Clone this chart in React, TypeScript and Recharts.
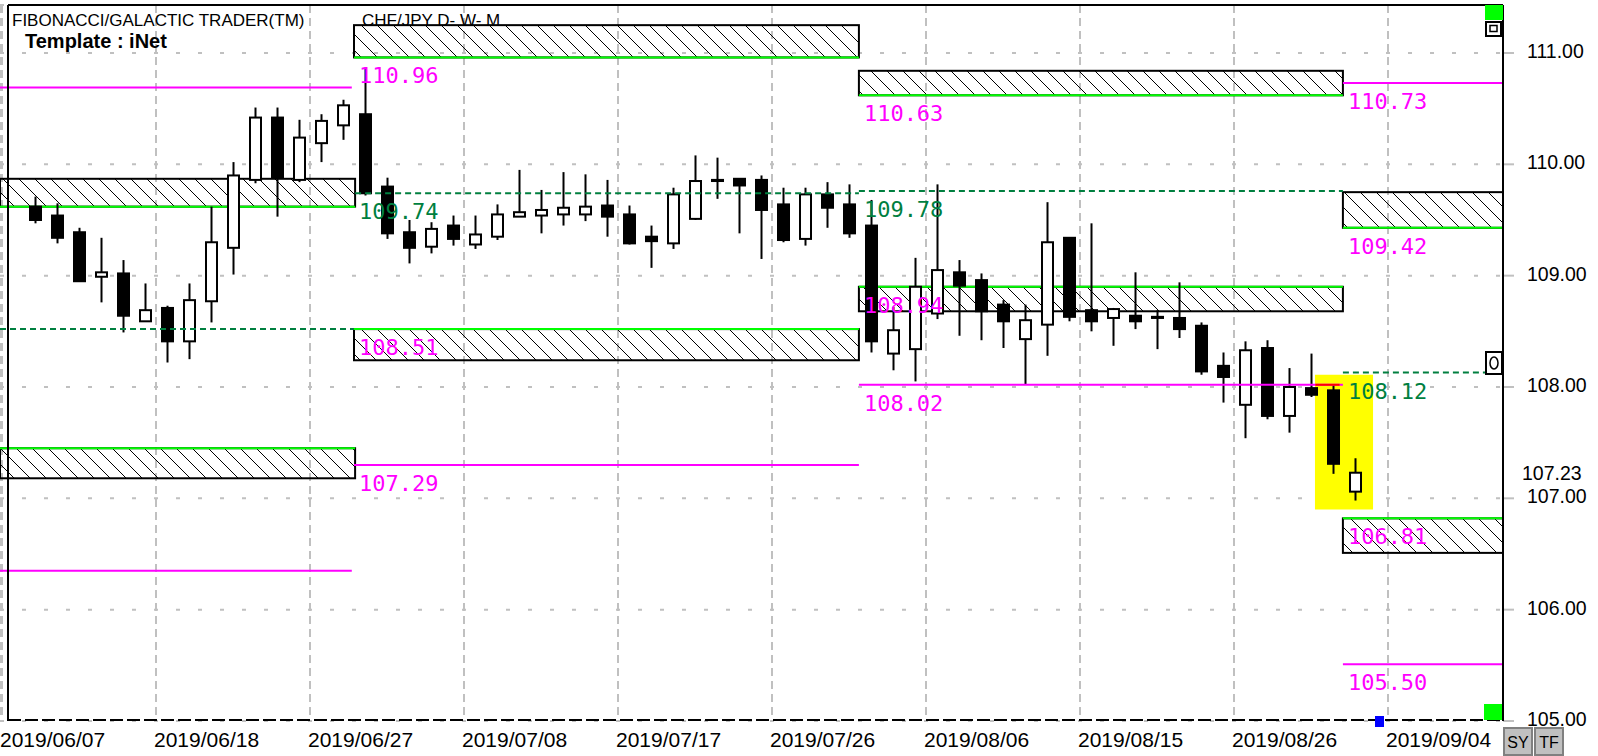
import { ComposedChart, Bar, XAxis, YAxis, CartesianGrid, ReferenceArea, ReferenceLine, ReferenceDot } from 'recharts'

// daily candles, index 0 .. 60
const opens = [
  109.62, 109.54, 109.39, 108.99, 109.02, 108.59, 108.71, 108.41, 108.77, 109.25,
  109.86, 110.42, 109.86, 110.19, 110.35, 110.45, 109.8, 109.39, 109.26, 109.45,
  109.28, 109.35, 109.53, 109.54, 109.55, 109.55, 109.63, 109.55, 109.35, 109.29,
  109.51, 109.86, 109.87, 109.86, 109.64, 109.33, 109.73, 109.64, 109.45, 108.3,
  108.34, 108.66, 109.03, 108.96, 108.74, 108.43, 108.56, 109.34, 108.69, 108.62,
  108.64, 108.63, 108.62, 108.55, 108.19, 107.84, 108.35, 107.74, 107.99, 107.97,
  107.06,
]
const highs = [
  109.71, 109.65, 109.43, 109.34, 109.14, 108.93, 108.73, 108.93, 109.62, 110.02,
  110.51, 110.51, 110.4, 110.45, 110.58, 110.87, 109.88, 109.5, 109.48, 109.54,
  109.54, 109.64, 109.95, 109.77, 109.93, 109.91, 109.86, 109.63, 109.45, 109.79,
  110.08, 110.06, 109.87, 109.9, 109.79, 109.79, 109.84, 109.82, 109.68, 108.72,
  109.16, 109.82, 109.14, 109.02, 108.78, 108.74, 109.66, 109.34, 109.47, 108.71,
  109.03, 108.69, 108.94, 108.58, 108.31, 108.41, 108.42, 108.17, 108.3, 108.02,
  107.36,
]
const lows = [
  109.47, 109.29, 108.95, 108.76, 108.49, 108.59, 108.22, 108.25, 108.58, 109.01,
  109.83, 109.53, 109.84, 110.02, 110.22, 109.72, 109.33, 109.11, 109.2, 109.27,
  109.24, 109.32, 109.53, 109.38, 109.45, 109.49, 109.35, 109.28, 109.07, 109.24,
  109.5, 109.69, 109.38, 109.15, 109.3, 109.27, 109.43, 109.34, 108.31, 108.15,
  108.05, 108.61, 108.46, 108.42, 108.35, 108.02, 108.28, 108.59, 108.5, 108.37,
  108.52, 108.34, 108.44, 108.11, 107.86, 107.54, 107.71, 107.59, 107.91, 107.22,
  106.98,
]
const closes = [
  109.5, 109.34, 108.95, 109.03, 108.64, 108.69, 108.41, 108.78, 109.3, 109.9,
  110.42, 109.88, 110.24, 110.39, 110.53, 109.74, 109.38, 109.25, 109.42, 109.33,
  109.37, 109.55, 109.57, 109.59, 109.61, 109.62, 109.53, 109.29, 109.31, 109.73,
  109.85, 109.85, 109.81, 109.59, 109.32, 109.73, 109.61, 109.38, 108.41, 108.51,
  108.9, 109.05, 108.91, 108.68, 108.59, 108.6, 109.3, 108.63, 108.59, 108.7,
  108.59, 108.62, 108.52, 108.14, 108.09, 108.33, 107.74, 108.0, 107.93, 107.31,
  107.23,
]

const dateTicks = [-1.5, 5.5, 12.5, 19.5, 26.5, 33.5, 40.5, 47.5, 54.5, 61.5]
const dateLabels = [
  '2019/06/07', '2019/06/18', '2019/06/27', '2019/07/08', '2019/07/17',
  '2019/07/26', '2019/08/06', '2019/08/15', '2019/08/26', '2019/09/04',
]
const priceTicks = [105, 106, 107, 108, 109, 110, 111]
const lastPrice = 107.23

const X_MIN = -1.591
const X_MAX = 66.727
const Y_MIN = 105
const Y_MAX = 111.431

// hatched zones: green edge marks the level
const zones = [
  { x1: 14.5, x2: 37.45, top: 111.25, bottom: 110.96, edge: 'bottom' },
  { x1: 37.45, x2: 59.45, top: 110.84, bottom: 110.62, edge: 'bottom' },
  { x1: X_MIN, x2: 14.55, top: 109.87, bottom: 109.62, edge: 'bottom' },
  { x1: 59.45, x2: X_MAX, top: 109.75, bottom: 109.43, edge: 'bottom' },
  { x1: 14.5, x2: 37.45, top: 108.52, bottom: 108.24, edge: 'top' },
  { x1: 37.45, x2: 59.45, top: 108.9, bottom: 108.68, edge: 'top' },
  { x1: X_MIN, x2: 14.55, top: 107.45, bottom: 107.18, edge: 'top' },
  { x1: 59.45, x2: X_MAX, top: 106.82, bottom: 106.51, edge: 'top' },
]

const magentaLines = [
  { x1: X_MIN, x2: 14.4, y: 110.69 },
  { x1: 59.45, x2: X_MAX, y: 110.73 },
  { x1: 37.45, x2: 59.45, y: 108.02 },
  { x1: 14.5, x2: 37.45, y: 107.3 },
  { x1: X_MIN, x2: 14.4, y: 106.35 },
  { x1: 59.45, x2: X_MAX, y: 105.51 },
]
const dashedLines = [
  { x1: 14.55, x2: 37.45, y: 109.74 },
  { x1: 37.45, x2: 59.45, y: 109.76 },
  { x1: X_MIN, x2: 14.5, y: 108.52 },
  { x1: 59.45, x2: 66.0, y: 108.13 },
]

const levelLabels = [
  { x: 14.5, y: 110.96, text: '110.96', color: '#ff00ff' },
  { x: 37.45, y: 110.62, text: '110.63', color: '#ff00ff' },
  { x: 59.45, y: 110.73, text: '110.73', color: '#ff00ff' },
  { x: 14.5, y: 109.74, text: '109.74', color: '#007f3f' },
  { x: 37.45, y: 109.76, text: '109.78', color: '#007f3f' },
  { x: 59.45, y: 109.43, text: '109.42', color: '#ff00ff' },
  { x: 14.5, y: 108.52, text: '108.51', color: '#ff00ff' },
  { x: 37.45, y: 108.9, text: '108.94', color: '#ff00ff' },
  { x: 37.45, y: 108.02, text: '108.02', color: '#ff00ff' },
  { x: 59.45, y: 108.13, text: '108.12', color: '#007f3f' },
  { x: 14.5, y: 107.3, text: '107.29', color: '#ff00ff' },
  { x: 59.45, y: 106.82, text: '106.81', color: '#ff00ff' },
  { x: 59.45, y: 105.51, text: '105.50', color: '#ff00ff' },
]

const highlight = { x1: 58.18, x2: 60.82, y1: 106.9, y2: 108.11 }

const candles = opens.map((open, i) => ({
  i,
  open,
  high: highs[i],
  low: lows[i],
  close: closes[i],
}))

const FONT = '"Liberation Sans", Arial, sans-serif'
const MONO = '"DejaVu Sans Mono", monospace'

function Candle(props: any) {
  const { x, y, width, height, payload } = props
  const { open, close, high, low } = payload
  const span = high - low || 1
  const py = (v: number) => y + ((high - v) / span) * height
  const cx = x + width / 2
  const top = py(Math.max(open, close))
  const bot = py(Math.min(open, close))
  const up = close > open
  return (
    <g>
      <line x1={cx} x2={cx} y1={y} y2={y + height} stroke="#000" strokeWidth={2} />
      <rect
        x={x + 1}
        y={top}
        width={width - 2}
        height={Math.max(bot - top, 1)}
        fill={up ? '#fff' : '#000'}
        stroke="#000"
        strokeWidth={2}
      />
    </g>
  )
}

const zoneShape = (edge: string) => (p: any) => {
  const { x, y, width, height } = p
  const gy = edge === 'top' ? y : y + height
  return (
    <g>
      <rect x={x} y={y} width={width} height={height} fill="url(#hatch)" stroke="#000" strokeWidth={2} />
      <line x1={x} x2={x + width} y1={gy} y2={gy} stroke="#00ff00" strokeWidth={2} />
    </g>
  )
}

const DateTick = (props: any) => {
  const { x, y, payload } = props
  const label = dateLabels[dateTicks.indexOf(payload.value)]
  return (
    <text x={x - 2} y={y + 26} fontSize={21} fontFamily={FONT} fill="#000">
      {label}
    </text>
  )
}

const PriceTick = (props: any) => {
  const { x, y, payload } = props
  return (
    <text x={x + 13} y={y + 5} fontSize={19.5} fontFamily={FONT} fill="#000">
      {Number(payload.value).toFixed(2)}
    </text>
  )
}

export default function App() {
  return (
    <div style={{ position: 'absolute', left: 0, top: 0, width: 1598, height: 756, background: '#fff' }}>
      <svg width={0} height={0} style={{ position: 'absolute' }}>
        <defs>
          <pattern id="hatch" patternUnits="userSpaceOnUse" width={16} height={16}>
            <path d="M0,0 L16,16 M-4,12 L4,20 M12,-4 L20,4" stroke="#000" strokeWidth={1} />
          </pattern>
        </defs>
      </svg>
      <ComposedChart
        width={1598}
        height={756}
        data={candles}
        margin={{ top: 5, right: 0, bottom: 0, left: 0 }}
      >
        <CartesianGrid horizontal={false} stroke="#c0c0c0" strokeWidth={2} strokeDasharray="8 5" />
        <CartesianGrid vertical={false} stroke="#c0c0c0" strokeWidth={2} strokeDasharray="4 18" />
        <XAxis
          type="number"
          dataKey="i"
          domain={[X_MIN, X_MAX]}
          ticks={dateTicks}
          interval={0}
          allowDataOverflow
          axisLine={false}
          tickLine={false}
          tickSize={0}
          tickMargin={0}
          height={35}
          tick={<DateTick />}
        />
        <YAxis
          orientation="right"
          domain={[Y_MIN, Y_MAX]}
          ticks={priceTicks}
          interval={0}
          allowDataOverflow
          width={95}
          axisLine={false}
          tickLine={{ stroke: '#c0c0c0', strokeWidth: 2 }}
          tickSize={11}
          tickMargin={0}
          tick={<PriceTick />}
        />
        <ReferenceArea
          x1={highlight.x1}
          x2={highlight.x2}
          y1={highlight.y1}
          y2={highlight.y2}
          fill="#ffff00"
          fillOpacity={1}
          stroke="none"
        />
        {zones.map((z, k) => (
          <ReferenceArea
            key={`z${k}`}
            x1={z.x1}
            x2={z.x2}
            y1={z.bottom}
            y2={z.top}
            shape={zoneShape(z.edge)}
          />
        ))}
        {magentaLines.map((l, k) => (
          <ReferenceLine
            key={`m${k}`}
            segment={[{ x: l.x1, y: l.y }, { x: l.x2, y: l.y }]}
            stroke="#ff00ff"
            strokeWidth={2}
          />
        ))}
        <ReferenceLine
          segment={[{ x: 58.2, y: 108.02 }, { x: 59.3, y: 108.02 }]}
          stroke="#ff0000"
          strokeWidth={2}
        />
        {dashedLines.map((l, k) => (
          <ReferenceLine
            key={`d${k}`}
            segment={[{ x: l.x1, y: l.y }, { x: l.x2, y: l.y }]}
            stroke="#007f3f"
            strokeWidth={2}
            strokeDasharray="6 4"
          />
        ))}
        {levelLabels.map((l, k) => (
          <ReferenceDot
            key={`l${k}`}
            x={l.x}
            y={l.y}
            r={1}
            ifOverflow="visible"
            shape={(p: any) => (
              <text x={p.cx + 5} y={p.cy + 26} fontSize={22} fontFamily={MONO} fill={l.color}>
                {l.text}
              </text>
            )}
          />
        ))}
        <ReferenceDot
          x={X_MAX}
          y={lastPrice}
          r={1}
          ifOverflow="visible"
          shape={(p: any) => (
            <text x={p.cx + 19} y={p.cy + 7} fontSize={19.5} fontFamily={FONT} fill="#000">
              {lastPrice.toFixed(2)}
            </text>
          )}
        />
        <Bar
          dataKey={(d: any) => [d.low, d.high]}
          barSize={13}
          shape={<Candle />}
          isAnimationActive={false}
        />
      </ComposedChart>
      <svg
        width={1598}
        height={756}
        style={{ position: 'absolute', left: 0, top: 0, pointerEvents: 'none' }}
      >
        <text x={12} y={26} fontSize={17} fontFamily={FONT} fill="#000">FIBONACCI/GALACTIC TRADER(TM)</text>
        <text x={25} y={48} fontSize={20} fontWeight="bold" fontFamily={FONT} fill="#000">Template : iNet</text>
        <text x={362} y={26} fontSize={17} fontFamily={FONT} fill="#000">CHF/JPY D- W- M</text>
        <line x1={8} x2={1503} y1={5} y2={5} stroke="#000" strokeWidth={2} />
        <line x1={8} x2={8} y1={5} y2={721} stroke="#000" strokeWidth={2} />
        <line x1={1503} x2={1503} y1={5} y2={721} stroke="#000" strokeWidth={2} />
        <line x1={8} x2={1503} y1={720} y2={720} stroke="#000" strokeWidth={2} strokeDasharray="13 4" />
        <rect x={1485} y={5} width={18} height={15} fill="#00ff00" />
        <rect x={1486} y={22} width={15} height={14} fill="#fff" stroke="#000" strokeWidth={2} />
        <rect x={1490} y={25.5} width={7} height={6} fill="none" stroke="#000" strokeWidth={1.5} />
        <rect x={1486} y={352} width={16} height={22} fill="#fff" stroke="#000" strokeWidth={2} />
        <ellipse cx={1494} cy={363} rx={4} ry={6} fill="none" stroke="#000" strokeWidth={1.5} />
        <rect x={1484} y={704} width={18} height={16} fill="#00ff00" />
        <rect x={1375} y={716} width={9} height={11} fill="#0000ff" />
        <rect x={1504} y={728} width={28} height={27} fill="#c0c0c0" stroke="#808080" strokeWidth={2} />
        <rect x={1535} y={728} width={28} height={27} fill="#c0c0c0" stroke="#808080" strokeWidth={2} />
        <text x={1518} y={748} fontSize={16} textAnchor="middle" fontFamily={FONT} fill="#000">SY</text>
        <text x={1549} y={748} fontSize={16} textAnchor="middle" fontFamily={FONT} fill="#000">TF</text>
      </svg>
    </div>
  )
}
